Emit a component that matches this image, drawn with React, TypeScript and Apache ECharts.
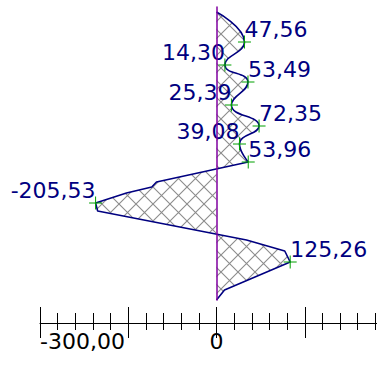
import React, { useEffect, useRef } from 'react';
import * as echarts from 'echarts';

// Profile: value at each depth (depth grows downwards).
const DEPTH = [5, 35, 58, 75, 98, 119, 137, 155, 175, 180, 186, 196, 204, 233, 244, 255, 283, 293];
const VALUE = [0, 47.56, 14.3, 53.49, 25.39, 72.35, 39.08, 53.96, -102, -110, -153, -205.53, -202, 51, 116, 125.26, 13.6, 0];
const MARKED = [false, true, true, true, true, true, true, true, false, false, false, true, false, false, false, true, false, false];
// last point of the smoothed upper stretch
const SMOOTH_END = 7;

const X_MIN = -300;
const X_MAX = 300;
const X_STEP = 150;
const DEPTH_MAX = 293;
const TICK_LABELS: Record<string, string> = { '-300': '-300,00', '0': '0' };

const NAVY = '#000080';
const GREEN = '#00a000';
const PURPLE = '#8000a0';
const FONT = 'DejaVu Sans';
const PLUS = 'path://M0 6.5H13M6.5 0V13';

const fmt = (v: number) => v.toFixed(2).replace('.', ',');

function hatchImage(size: number): string {
  const c = document.createElement('canvas');
  c.width = size;
  c.height = size;
  const g = c.getContext('2d')!;
  g.strokeStyle = '#8c8c8c';
  g.lineWidth = 1.1;
  g.beginPath();
  for (const o of [-size, 0, size]) {
    g.moveTo(o - 1, -1);
    g.lineTo(o + size + 1, size + 1);
    g.moveTo(o - 1, size + 1);
    g.lineTo(o + size + 1, -1);
  }
  g.stroke();
  return c.toDataURL();
}

// labels sit on the outer side of each peak
function labelAlign(i: number): 'left' | 'right' {
  const v = VALUE[i];
  const prev = VALUE[i - 1] ?? 0;
  const next = VALUE[i + 1] ?? 0;
  return v >= prev && v >= next ? 'left' : 'right';
}

export default function App() {
  const ref = useRef<HTMLDivElement>(null);

  useEffect(() => {
    const chart = echarts.init(ref.current!, null, { renderer: 'svg' });
    const tile = 17;
    const hatch = hatchImage(tile);

    const points = VALUE.map((v, i) => {
      const item: any = { value: [v, DEPTH[i]] };
      if (MARKED[i]) {
        item.label = { show: true, align: labelAlign(i) };
      } else {
        item.symbol = 'none';
        item.label = { show: false };
      }
      return item;
    });
    const upper = points.slice(0, SMOOTH_END + 1);
    const lower = [
      { value: points[SMOOTH_END].value, symbol: 'none', label: { show: false } },
      ...points.slice(SMOOTH_END + 1),
    ];

    const base: any = {
      type: 'line',
      xAxisIndex: 0,
      yAxisIndex: 0,
      symbol: PLUS,
      symbolSize: 13,
      showAllSymbol: true,
      lineStyle: { color: NAVY, width: 1.6 },
      itemStyle: { color: GREEN, borderColor: GREEN, borderWidth: 1 },
      areaStyle: {
        color: { image: hatch, repeat: 'repeat', imageWidth: tile, imageHeight: tile },
        opacity: 1,
      },
      label: {
        position: [7, 5],
        verticalAlign: 'bottom',
        fontFamily: FONT,
        fontSize: 22,
        color: NAVY,
        formatter: (p: any) => fmt(p.value[0]),
      },
      emphasis: { disabled: true },
      z: 2,
    };

    const xCommon: any = {
      type: 'value',
      min: X_MIN,
      max: X_MAX,
      interval: X_STEP,
      position: 'bottom',
      offset: 23,
      splitLine: { show: false },
      minorSplitLine: { show: false },
    };

    chart.setOption({
      animation: false,
      backgroundColor: '#ffffff',
      grid: { left: 40, width: 353, top: 7, bottom: 85, containLabel: false, outerBoundsMode: 'none' },
      xAxis: [
        {
          ...xCommon,
          axisLine: { show: true, onZero: false, lineStyle: { color: '#000', width: 1 } },
          axisTick: { show: true, inside: false, length: 15, lineStyle: { color: '#000', width: 1 } },
          minorTick: { show: true, splitNumber: 5, length: 7, lineStyle: { color: '#000', width: 1 } },
          axisLabel: {
            show: true,
            margin: 7,
            color: '#000',
            fontFamily: FONT,
            fontSize: 22,
            alignMinLabel: 'left',
            formatter: (v: number) => TICK_LABELS[String(v)] ?? '',
          },
        },
        {
          ...xCommon,
          axisLine: { show: false, onZero: false },
          axisTick: { show: true, inside: true, length: 16, lineStyle: { color: '#000', width: 1 } },
          minorTick: { show: true, splitNumber: 5, length: 10, lineStyle: { color: '#000', width: 1 } },
          axisLabel: { show: false },
        },
      ],
      yAxis: {
        type: 'time',
        inverse: true,
        min: 0,
        max: DEPTH_MAX,
        z: 5,
        axisLine: { show: true, onZero: true, lineStyle: { color: PURPLE, width: 1.5 } },
        axisTick: { show: false },
        axisLabel: { show: false },
        splitLine: { show: false },
      },
      series: [
        { ...base, smooth: 0.5, data: upper },
        { ...base, smooth: false, data: lower },
      ],
    });

    return () => chart.dispose();
  }, []);

  return (
    <div
      ref={ref}
      style={{ position: 'fixed', left: 0, top: 0, width: 377, height: 385, background: '#fff' }}
    />
  );
}
